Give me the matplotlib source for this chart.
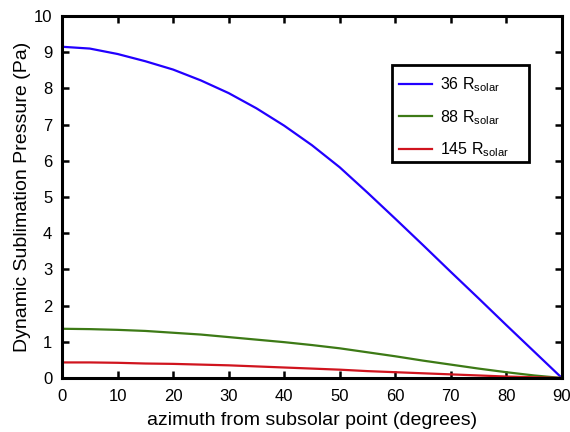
#!/usr/bin/env python3
"""
Dynamic sublimation pressure vs azimuth from the subsolar point.
"""
import matplotlib
matplotlib.use("Agg")
import matplotlib.pyplot as plt
from matplotlib.patches import Rectangle

plt.rcParams['font.family'] = ['Liberation Sans', 'DejaVu Sans']
plt.rcParams['mathtext.fontset'] = 'custom'
plt.rcParams['mathtext.rm'] = 'Liberation Sans'
plt.rcParams['mathtext.it'] = 'Liberation Sans'

# --- data ---
azimuth = [0, 5, 10, 15, 20, 25, 30, 35, 40, 45, 50, 55, 60, 65, 70, 75, 80, 85, 90]
p_36 = [9.15, 9.10, 8.95, 8.75, 8.52, 8.22, 7.87, 7.45, 6.97, 6.43,
        5.82, 5.12, 4.40, 3.67, 2.93, 2.20, 1.46, 0.73, 0.0]
p_88 = [1.36, 1.35, 1.33, 1.30, 1.25, 1.20, 1.13, 1.06, 0.99, 0.91,
        0.82, 0.71, 0.60, 0.48, 0.37, 0.26, 0.16, 0.07, 0.0]
p_145 = [0.43, 0.43, 0.42, 0.40, 0.39, 0.37, 0.35, 0.32, 0.29, 0.26,
         0.23, 0.19, 0.16, 0.13, 0.10, 0.07, 0.04, 0.02, 0.0]
labels = [r'36 R$_{\mathrm{solar}}$', r'88 R$_{\mathrm{solar}}$', r'145 R$_{\mathrm{solar}}$']
colors = ['#2200ff', '#3d7a16', '#d0141e']

fig = plt.figure(figsize=(5.7, 4.32), dpi=100)
ax = fig.add_axes([0.1088, 0.125, 0.877, 0.838])

for series, lab, col in zip([p_36, p_88, p_145], labels, colors):
    ax.plot(azimuth, series, color=col, lw=1.6, label=lab)

ax.set_xlim(0, 90)
ax.set_ylim(0, 10)
ax.set_xticks(range(0, 91, 10))
ax.set_yticks(range(0, 11))
ax.tick_params(direction='in', length=5, width=1.8, labelsize=12,
               top=True, right=True)
ax.tick_params(axis='x', pad=8)
ax.tick_params(axis='y', pad=7)
for sp in ax.spines.values():
    sp.set_linewidth(2.2)

ax.set_xlabel('azimuth from subsolar point (degrees)', fontsize=14, labelpad=6)
ax.set_ylabel('Dynamic Sublimation Pressure (Pa)', fontsize=14, labelpad=2)

# legend box drawn separately, MATLAB style (wide right margin)
ax.add_patch(Rectangle((0.661, 0.5975), 0.273, 0.267, transform=ax.transAxes,
                       facecolor='white', edgecolor='black', lw=2.0, zorder=4))
leg = ax.legend(loc='upper left', bbox_to_anchor=(0.674, 0.835), fontsize=11.5,
                frameon=False, labelspacing=0.85, handlelength=2.1,
                handletextpad=0.45, borderpad=0, borderaxespad=0)
leg.set_zorder(5)

fig.savefig('out.png', dpi=100)
